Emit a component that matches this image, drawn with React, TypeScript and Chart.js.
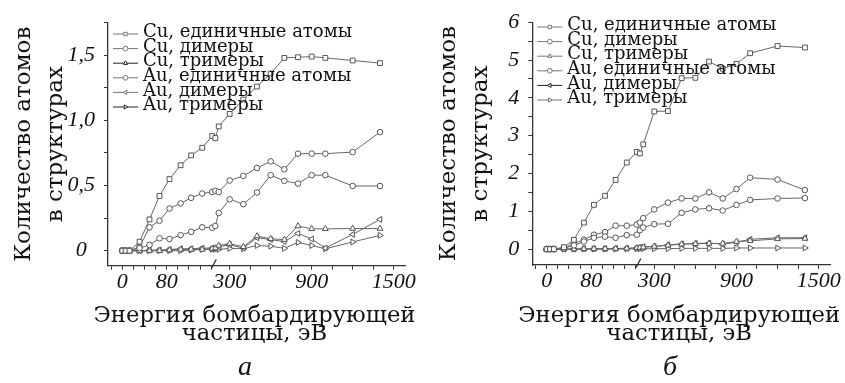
import { useEffect, useRef } from 'react';
import { Chart, registerables } from 'chart.js';

Chart.register(...registerables);

// ---------- data ----------
const ENERGY_EV = [0, 6, 13, 31, 49, 67, 85, 105, 124, 144, 162, 195, 220, 300, 400, 500, 600, 700, 800, 900, 1000, 1200, 1400];

const SERIES_NAMES = ['Cu, единичные атомы', 'Cu, димеры', 'Cu, тримеры', 'Au, единичные атомы', 'Au, димеры', 'Au, тримеры'];

// panel а
const A_CU_SINGLE = [0, 0, 0, 0.069, 0.24, 0.42, 0.55, 0.656, 0.732, 0.79, 0.88, 0.865, 0.954, 1.05, 1.16, 1.26, 1.36, 1.48, 1.485, 1.49, 1.48, 1.46, 1.44];
const A_CU_DIMERS = [0, 0, 0, 0.02, 0.044, 0.095, 0.09, 0.12, 0.145, 0.18, 0.176, 0.19, 0.29, 0.395, 0.357, 0.447, 0.58, 0.536, 0.515, 0.58, 0.58, 0.497, 0.497];
const A_CU_TRIMERS = [0, 0, 0, 0, 0, 0, 0.005, 0.01, 0.01, 0.01, 0.015, 0.02, 0.04, 0.054, 0.03, 0.112, 0.092, 0.085, 0.189, 0.168, 0.168, 0.17, 0.17];
const A_AU_SINGLE = [0, 0, 0, 0.03, 0.18, 0.23, 0.324, 0.363, 0.406, 0.439, 0.451, 0.459, 0.451, 0.539, 0.574, 0.635, 0.686, 0.625, 0.745, 0.745, 0.745, 0.757, 0.91];
const A_AU_DIMERS = [0, 0, 0, 0, 0.005, 0.005, 0.01, 0.015, 0.015, 0.02, 0.02, 0.02, 0.03, 0.045, 0.02, 0.1, 0.085, 0.07, 0.133, 0.09, 0.02, 0.125, 0.24];
const A_AU_TRIMERS = [0, 0, 0, 0, 0, 0, 0, 0, 0.005, 0.01, 0.01, 0.01, 0.01, 0.018, 0.015, 0.04, 0.035, 0.018, 0.064, 0.04, 0.015, 0.067, 0.118];

// panel б
const B_CU_SINGLE = [0, 0, 0, 0.05, 0.245, 0.7, 1.17, 1.41, 1.83, 2.29, 2.57, 2.53, 2.77, 3.64, 3.65, 4.52, 4.53, 4.96, 4.77, 4.9, 5.18, 5.37, 5.33];
const B_CU_DIMERS = [0, 0, 0, 0.02, 0.1, 0.2, 0.3, 0.33, 0.3, 0.37, 0.38, 0.5, 0.57, 0.66, 0.67, 0.96, 1.05, 1.08, 1.02, 1.17, 1.3, 1.34, 1.35];
const B_CU_TRIMERS = [0, 0, 0, 0, 0, 0.01, 0.01, 0.01, 0.015, 0.02, 0.03, 0.04, 0.05, 0.07, 0.1, 0.13, 0.14, 0.15, 0.15, 0.2, 0.22, 0.27, 0.28];
const B_AU_SINGLE = [0, 0, 0, 0.03, 0.15, 0.25, 0.38, 0.45, 0.62, 0.62, 0.65, 0.7, 0.82, 1.05, 1.23, 1.34, 1.34, 1.5, 1.34, 1.59, 1.89, 1.84, 1.56];
const B_AU_DIMERS = [0, 0, 0, 0, 0, 0.01, 0.01, 0.01, 0.02, 0.02, 0.03, 0.04, 0.06, 0.07, 0.11, 0.14, 0.15, 0.16, 0.13, 0.18, 0.26, 0.3, 0.3];
const B_AU_TRIMERS = [0, 0, 0, 0, 0, 0, 0, 0, 0, 0.005, 0.01, 0.01, 0.01, 0.01, 0.015, 0.02, 0.02, 0.02, 0.02, 0.03, 0.03, 0.03, 0.03];

// axis ticks
const X_TICKS_EV = [-20, 0, 20, 40, 60, 80, 100, 120, 140, 160, 300, 450, 600, 750, 900, 1050, 1200, 1350, 1500];
const X_TICK_LABELS = ['', '0', '', '', '', '80', '', '', '', '', '300', '', '', '', '900', '', '', '', '1500'];
const A_Y_TICKS = [0, 0.25, 0.5, 0.75, 1, 1.25, 1.5, 1.75];
const A_Y_TICK_LABELS = ['0', '', '0,5', '', '1,0', '', '1,5', ''];
const B_Y_TICKS = [0, 0.5, 1, 1.5, 2, 2.5, 3, 3.5, 4, 4.5, 5, 5.5, 6];
const B_Y_TICK_LABELS = ['0', '', '1', '', '2', '', '3', '', '4', '', '5', '', '6'];

const X_TITLE = ['Энергия бомбардирующей', 'частицы, эВ'];
const Y_TITLE = ['Количество атомов', 'в структурах'];

// ---------- broken energy axis ----------
const BREAK_LEFT_EV = 165;
const BREAK_RIGHT_EV = 200;
const SEGMENT_GAP = 3.8;
const COMPRESSION = 0.2463;
const X_MIN = -25.8;
const X_MAX = 509.4;
function toAxis(e: number): number {
  return e <= BREAK_LEFT_EV ? e : BREAK_LEFT_EV + SEGMENT_GAP + (e - BREAK_RIGHT_EV) * COMPRESSION;
}

// ---------- styles ----------
const POINT_STYLES = ['rect', 'circle', 'triangle', 'circle', 'triangle', 'triangle'];
const POINT_ROTATIONS = [0, 0, 0, 0, -90, 90];
const POINT_RADII = [3.4, 2.8, 3.4, 2.8, 3.4, 3.4];
const LINE_COLOR = '#666';
const TEXT_COLOR = '#111';
const SERIF = "'DejaVu Serif', serif";
const ITALIC_SERIF = "'Liberation Serif', serif";

function drawMarker(ctx: CanvasRenderingContext2D, style: string, x: number, y: number, r: number, rotDeg: number) {
  ctx.beginPath();
  if (style === 'rect') {
    const s = r * Math.SQRT1_2;
    ctx.rect(x - s, y - s, 2 * s, 2 * s);
  } else if (style === 'circle') {
    ctx.arc(x, y, r, 0, Math.PI * 2);
  } else {
    let rad = (rotDeg * Math.PI) / 180;
    ctx.moveTo(x + Math.sin(rad) * r, y - Math.cos(rad) * r);
    rad += (2 * Math.PI) / 3;
    ctx.lineTo(x + Math.sin(rad) * r, y - Math.cos(rad) * r);
    rad += (2 * Math.PI) / 3;
    ctx.lineTo(x + Math.sin(rad) * r, y - Math.cos(rad) * r);
    ctx.closePath();
  }
  ctx.fill();
  ctx.stroke();
}

interface PanelCfg {
  series: number[][];
  legendColors: string[];
  yMin: number;
  yMax: number;
  yTicks: number[];
  yTickLabels: string[];
  top: number;
  xScaleHeight: number;
  yScaleWidth: number;
  legendTop: number;
  letter: string;
}

const PANEL_A: PanelCfg = {
  series: [A_CU_SINGLE, A_CU_DIMERS, A_CU_TRIMERS, A_AU_SINGLE, A_AU_DIMERS, A_AU_TRIMERS],
  legendColors: ['#777', '#777', '#222', '#777', '#777', '#222'],
  yMin: -0.115,
  yMax: 1.75,
  yTicks: A_Y_TICKS,
  yTickLabels: A_Y_TICK_LABELS,
  top: 22.7,
  xScaleHeight: 117.3,
  yScaleWidth: 108,
  legendTop: 32.5,
  letter: 'а',
};

const PANEL_B: PanelCfg = {
  series: [B_CU_SINGLE, B_CU_DIMERS, B_CU_TRIMERS, B_AU_SINGLE, B_AU_DIMERS, B_AU_TRIMERS],
  legendColors: ['#777', '#777', '#777', '#777', '#222', '#777'],
  yMin: -0.42,
  yMax: 6,
  yTicks: B_Y_TICKS,
  yTickLabels: B_Y_TICK_LABELS,
  top: 21.7,
  xScaleHeight: 118,
  yScaleWidth: 107.3,
  legendTop: 25.5,
  letter: 'б',
};

const CANVAS_W = 424;
const CANVAS_H = 383;
const X_TITLE_WIDTH = 322;

function Panel({ cfg }: { cfg: PanelCfg }) {
  const ref = useRef<HTMLCanvasElement | null>(null);

  useEffect(() => {
    if (!ref.current) return;

    const decor = {
      id: 'decor',
      afterDatasetsDraw(chart: any) {
        const ctx: CanvasRenderingContext2D = chart.ctx;
        const xs = chart.scales.x;
        const area = chart.chartArea;
        ctx.save();
        // axis break mark
        const bx = xs.getPixelForValue(toAxis(BREAK_LEFT_EV));
        ctx.strokeStyle = '#222';
        ctx.lineWidth = 1.2;
        ctx.beginPath();
        ctx.moveTo(bx - 2.4, area.bottom + 2.5);
        ctx.lineTo(bx + 2.4, area.bottom - 6.5);
        ctx.stroke();

        // legend
        const lx = area.left + 5;
        const rowH = 14.6;
        ctx.font = `18px ${SERIF}`;
        ctx.textBaseline = 'middle';
        ctx.textAlign = 'left';
        SERIES_NAMES.forEach((name, i) => {
          const y = cfg.legendTop + i * rowH;
          ctx.strokeStyle = cfg.legendColors[i];
          ctx.lineWidth = 1;
          ctx.beginPath();
          ctx.moveTo(lx, y + 1.5);
          ctx.lineTo(lx + 25, y + 1.5);
          ctx.stroke();
          ctx.fillStyle = '#fff';
          drawMarker(ctx, POINT_STYLES[i], lx + 12.5, y + 1.5, 2.4, POINT_ROTATIONS[i]);
          ctx.fillStyle = TEXT_COLOR;
          ctx.fillText(name, lx + 30, y);
        });

        // x-axis title (two lines, wider than the plot area)
        ctx.font = `100px ${SERIF}`;
        const w100 = ctx.measureText(X_TITLE[0]).width;
        const size = Math.min(26, (100 * X_TITLE_WIDTH) / w100);
        ctx.font = `${size.toFixed(2)}px ${SERIF}`;
        ctx.textAlign = 'center';
        ctx.textBaseline = 'alphabetic';
        ctx.fillStyle = TEXT_COLOR;
        const cx = (area.left + area.right) / 2 - 2;
        ctx.fillText(X_TITLE[0], cx, 321.5);
        ctx.fillText(X_TITLE[1], cx, 340);

        // panel letter
        ctx.font = `italic 28px ${ITALIC_SERIF}`;
        ctx.fillText(cfg.letter, 245, 375);
        ctx.restore();
      },
    };

    const chart = new Chart(ref.current, {
      type: 'line',
      data: {
        datasets: cfg.series.map((vals, i) => ({
          label: SERIES_NAMES[i],
          data: vals.map((v, k) => ({ x: toAxis(ENERGY_EV[k]), y: v })),
          borderColor: LINE_COLOR,
          borderWidth: 1,
          backgroundColor: '#ffffff',
          pointBackgroundColor: '#ffffff',
          pointBorderColor: '#555',
          pointBorderWidth: 1,
          pointStyle: POINT_STYLES[i] as any,
          pointRotation: POINT_ROTATIONS[i],
          pointRadius: POINT_RADII[i],
          tension: 0,
          fill: false,
          clip: false as any,
        })),
      },
      options: {
        animation: false,
        responsive: false,
        events: [],
        layout: { padding: { top: cfg.top, right: CANVAS_W - 405, left: 0, bottom: 0 } },
        plugins: {
          legend: { display: false },
          tooltip: { enabled: false },
        },
        scales: {
          x: {
            type: 'linear',
            bounds: 'data',
            min: X_MIN,
            max: X_MAX,
            afterFit: (s: any) => {
              s.height = cfg.xScaleHeight;
            },
            afterBuildTicks: (s: any) => {
              s.ticks = X_TICKS_EV.map((e) => ({ value: toAxis(e) }));
            },
            grid: { drawOnChartArea: false, drawTicks: true, tickLength: 4, tickColor: '#333', tickWidth: 1 },
            border: { display: true, color: '#333', width: 1.3 },
            ticks: {
              autoSkip: false,
              maxRotation: 0,
              minRotation: 0,
              padding: 0,
              color: TEXT_COLOR,
              font: { family: ITALIC_SERIF, style: 'italic', size: 22, lineHeight: 1.15 },
              callback: (_v: any, i: number) => X_TICK_LABELS[i] ?? '',
            },
            title: { display: false },
          },
          y: {
            type: 'linear',
            bounds: 'data',
            min: cfg.yMin,
            max: cfg.yMax,
            afterFit: (s: any) => {
              s.width = cfg.yScaleWidth;
            },
            afterBuildTicks: (s: any) => {
              s.ticks = cfg.yTicks.map((v) => ({ value: v }));
            },
            grid: { drawOnChartArea: false, drawTicks: true, tickLength: 4, tickColor: '#333', tickWidth: 1 },
            border: { display: true, color: '#333', width: 1.3 },
            ticks: {
              autoSkip: false,
              padding: 9,
              crossAlign: 'center',
              color: TEXT_COLOR,
              font: { family: ITALIC_SERIF, style: 'italic', size: 22, lineHeight: 1.2 },
              callback: (_v: any, i: number) => cfg.yTickLabels[i] ?? '',
            },
            title: {
              display: true,
              text: Y_TITLE,
              color: TEXT_COLOR,
              font: { family: SERIF, size: 23, lineHeight: 1.4 },
              padding: { top: 8, bottom: 0 },
            },
          },
        },
      } as any,
      plugins: [decor],
    });

    return () => chart.destroy();
  }, [cfg]);

  return <canvas ref={ref} width={CANVAS_W} height={CANVAS_H} style={{ display: 'block', width: CANVAS_W, height: CANVAS_H }} />;
}

export default function App() {
  return (
    <div style={{ position: 'absolute', left: 0, top: 0, width: 845, height: 383, background: '#fff', overflow: 'hidden' }}>
      <div style={{ position: 'absolute', left: 0, top: 0 }}>
        <Panel cfg={PANEL_A} />
      </div>
      <div style={{ position: 'absolute', left: 425, top: 0 }}>
        <Panel cfg={PANEL_B} />
      </div>
    </div>
  );
}
